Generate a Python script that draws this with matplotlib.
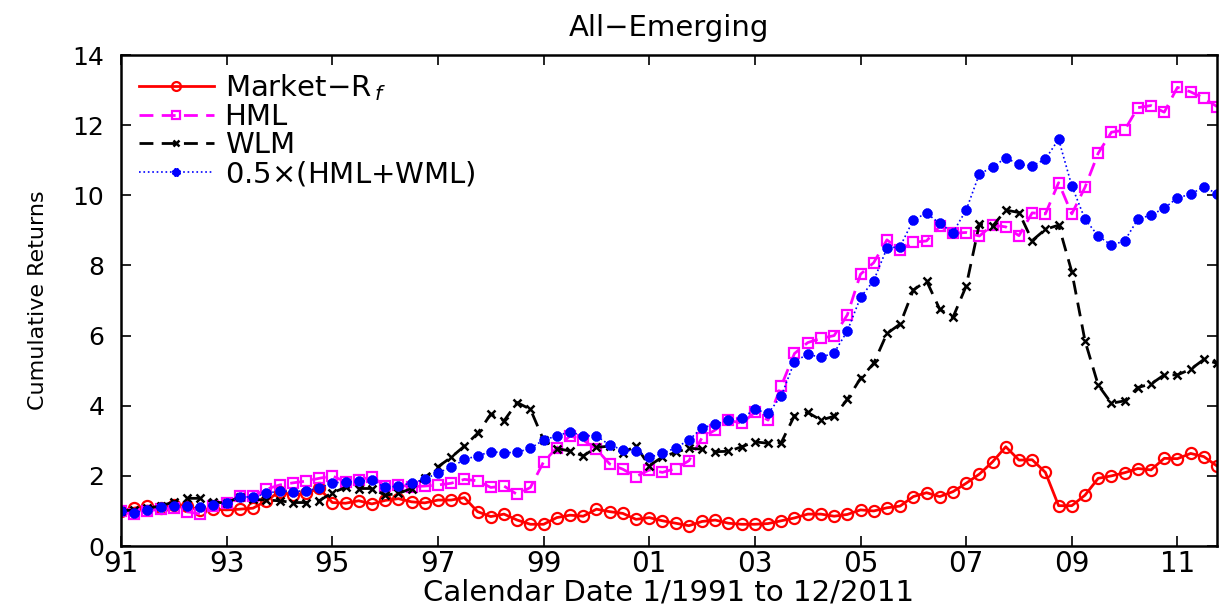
import numpy as np
import matplotlib
matplotlib.use('Agg')
import matplotlib.pyplot as plt

plt.rcParams['font.family'] = ['DejaVu Sans']

# quarterly observations, 1991Q1 .. 2011Q4
n_q = 84
start_year = 1991

market_rf = [1.0, 1.08, 1.14, 1.09, 1.16, 1.14, 1.02, 1.05, 1.03, 1.05, 1.08, 1.29, 1.55, 1.45, 1.5, 1.65, 1.24, 1.22, 1.29, 1.2, 1.3, 1.35,
             1.26, 1.23, 1.31, 1.31, 1.38, 0.98, 0.84, 0.91, 0.74, 0.62, 0.62, 0.81, 0.88, 0.85, 1.05, 0.98, 0.93, 0.76, 0.81, 0.72, 0.65, 0.58,
             0.7, 0.74, 0.65, 0.62, 0.62, 0.64, 0.72, 0.8, 0.91, 0.91, 0.85, 0.9, 1.03, 1.0, 1.09, 1.14, 1.41, 1.52, 1.41,
             1.55, 1.79, 2.05, 2.4, 2.83, 2.45, 2.46, 2.1, 1.15, 1.15, 1.45, 1.93, 2.0, 2.09, 2.21, 2.17, 2.5, 2.49, 2.64, 2.55, 2.28]

hml = [1.0, 0.9, 1.0, 1.05, 1.08, 0.98, 0.91, 1.14, 1.22, 1.43, 1.43, 1.62, 1.74, 1.8, 1.85, 1.93, 2.0, 1.83, 1.88, 1.98, 1.71, 1.74,
       1.69, 1.71, 1.74, 1.79, 1.9, 1.86, 1.67, 1.71, 1.47, 1.67, 2.4, 2.8, 3.14, 3.02, 2.76, 2.34, 2.19, 1.98, 2.17, 2.1, 2.21, 2.43,
       3.09, 3.31, 3.59, 3.5, 3.81, 3.59, 4.57, 5.49, 5.8, 5.92, 6.0, 6.59, 7.75, 8.08, 8.73, 8.44, 8.66, 8.7, 9.12,
       8.92, 8.94, 8.84, 9.15, 9.1, 8.85, 9.5, 9.47, 10.36, 9.47, 10.23, 11.2, 11.8, 11.86, 12.5, 12.56, 12.37, 13.08, 12.95, 12.77, 12.53]

wml = [1.0, 1.03, 1.08, 1.14, 1.26, 1.36, 1.36, 1.26, 1.22, 1.41, 1.33, 1.31, 1.29, 1.24, 1.24, 1.29, 1.52, 1.67, 1.64, 1.64, 1.45, 1.5,
       1.64, 1.95, 2.26, 2.53, 2.85, 3.21, 3.76, 3.57, 4.09, 3.9, 3.02, 2.78, 2.71, 2.57, 2.81, 2.85, 2.66, 2.85, 2.29, 2.54, 2.67, 2.79,
       2.76, 2.69, 2.7, 2.83, 2.97, 2.93, 2.95, 3.72, 3.81, 3.59, 3.7, 4.18, 4.78, 5.21, 6.06, 6.33, 7.3, 7.56, 6.75,
       6.52, 7.41, 9.18, 9.12, 9.58, 9.51, 8.71, 9.03, 9.15, 7.82, 5.85, 4.59, 4.07, 4.14, 4.52, 4.62, 4.88, 4.88, 5.04, 5.32, 5.21]

combo = [1.0, 0.95, 1.03, 1.1, 1.15, 1.14, 1.1, 1.17, 1.22, 1.41, 1.39, 1.5, 1.57, 1.55, 1.58, 1.65, 1.8, 1.82, 1.84, 1.88, 1.67, 1.71,
         1.8, 1.9, 2.09, 2.24, 2.47, 2.57, 2.69, 2.66, 2.67, 2.79, 3.02, 3.14, 3.26, 3.14, 3.14, 2.88, 2.74, 2.71, 2.53, 2.64, 2.8, 3.02,
         3.37, 3.47, 3.59, 3.64, 3.9, 3.78, 4.28, 5.26, 5.47, 5.38, 5.51, 6.13, 7.09, 7.57, 8.49, 8.54, 9.3, 9.49, 9.2,
         8.94, 9.58, 10.61, 10.8, 11.07, 10.88, 10.84, 11.03, 11.6, 10.27, 9.32, 8.84, 8.58, 8.7, 9.32, 9.44, 9.63, 9.93, 10.03, 10.25, 10.04]

tick_years = [1991, 1993, 1995, 1997, 1999, 2001, 2003, 2005, 2007, 2009, 2011]
tick_labels = ['91', '93', '95', '97', '99', '01', '03', '05', '07', '09', '11']

t = start_year + np.arange(n_q) / 4.0

fig = plt.figure(figsize=(12.19, 6.05), dpi=100)
ax = fig.add_axes([0.0993, 0.0975, 0.8991, 0.8115])

ax.plot(t, market_rf, '-', color='red', lw=2, marker='o', ms=8, mfc='none', mec='red', mew=1.6,
        label='Market$-$R$_{\\,f}$')
ax.plot(t, hml, '--', color='magenta', lw=2, marker='s', ms=7, mfc='none', mec='magenta', mew=1.6,
        dashes=(5, 3), label='HML')
ax.plot(t, wml, '--', color='black', lw=2, marker='x', ms=6, mec='black', mew=1.8,
        dashes=(5, 3), label='WLM')
ax.plot(t, combo, ':', color='blue', lw=1.2, marker=(8, 2, 0), ms=7, mec='blue', mew=2.6,
        label='0.5$\\times$(HML+WML)')

ax.set_xlim(start_year, t[-1])
ax.set_ylim(0, 14)
ax.set_xticks(tick_years)
ax.set_xticklabels(tick_labels)
ax.set_yticks(np.arange(0, 15, 2))
ax.tick_params(direction='in', top=True, right=True, length=7, width=1.2)
ax.tick_params(axis='x', labelsize=20, pad=3)
ax.tick_params(axis='y', labelsize=18, pad=12)
for s in ax.spines.values():
    s.set_linewidth(1.8)

ax.set_title('All\u2212Emerging', fontsize=21, pad=14)
ax.set_xlabel('Calendar Date 1/1991 to 12/2011', fontsize=21, labelpad=0)
ax.set_ylabel('Cumulative Returns', fontsize=16, labelpad=18)

ax.legend(loc='upper left', frameon=False, fontsize=21, handlelength=2.6, labelspacing=0.0,
          borderaxespad=0.2, handletextpad=0.35, markerscale=0.8)

fig.savefig('out.png', dpi=100)
